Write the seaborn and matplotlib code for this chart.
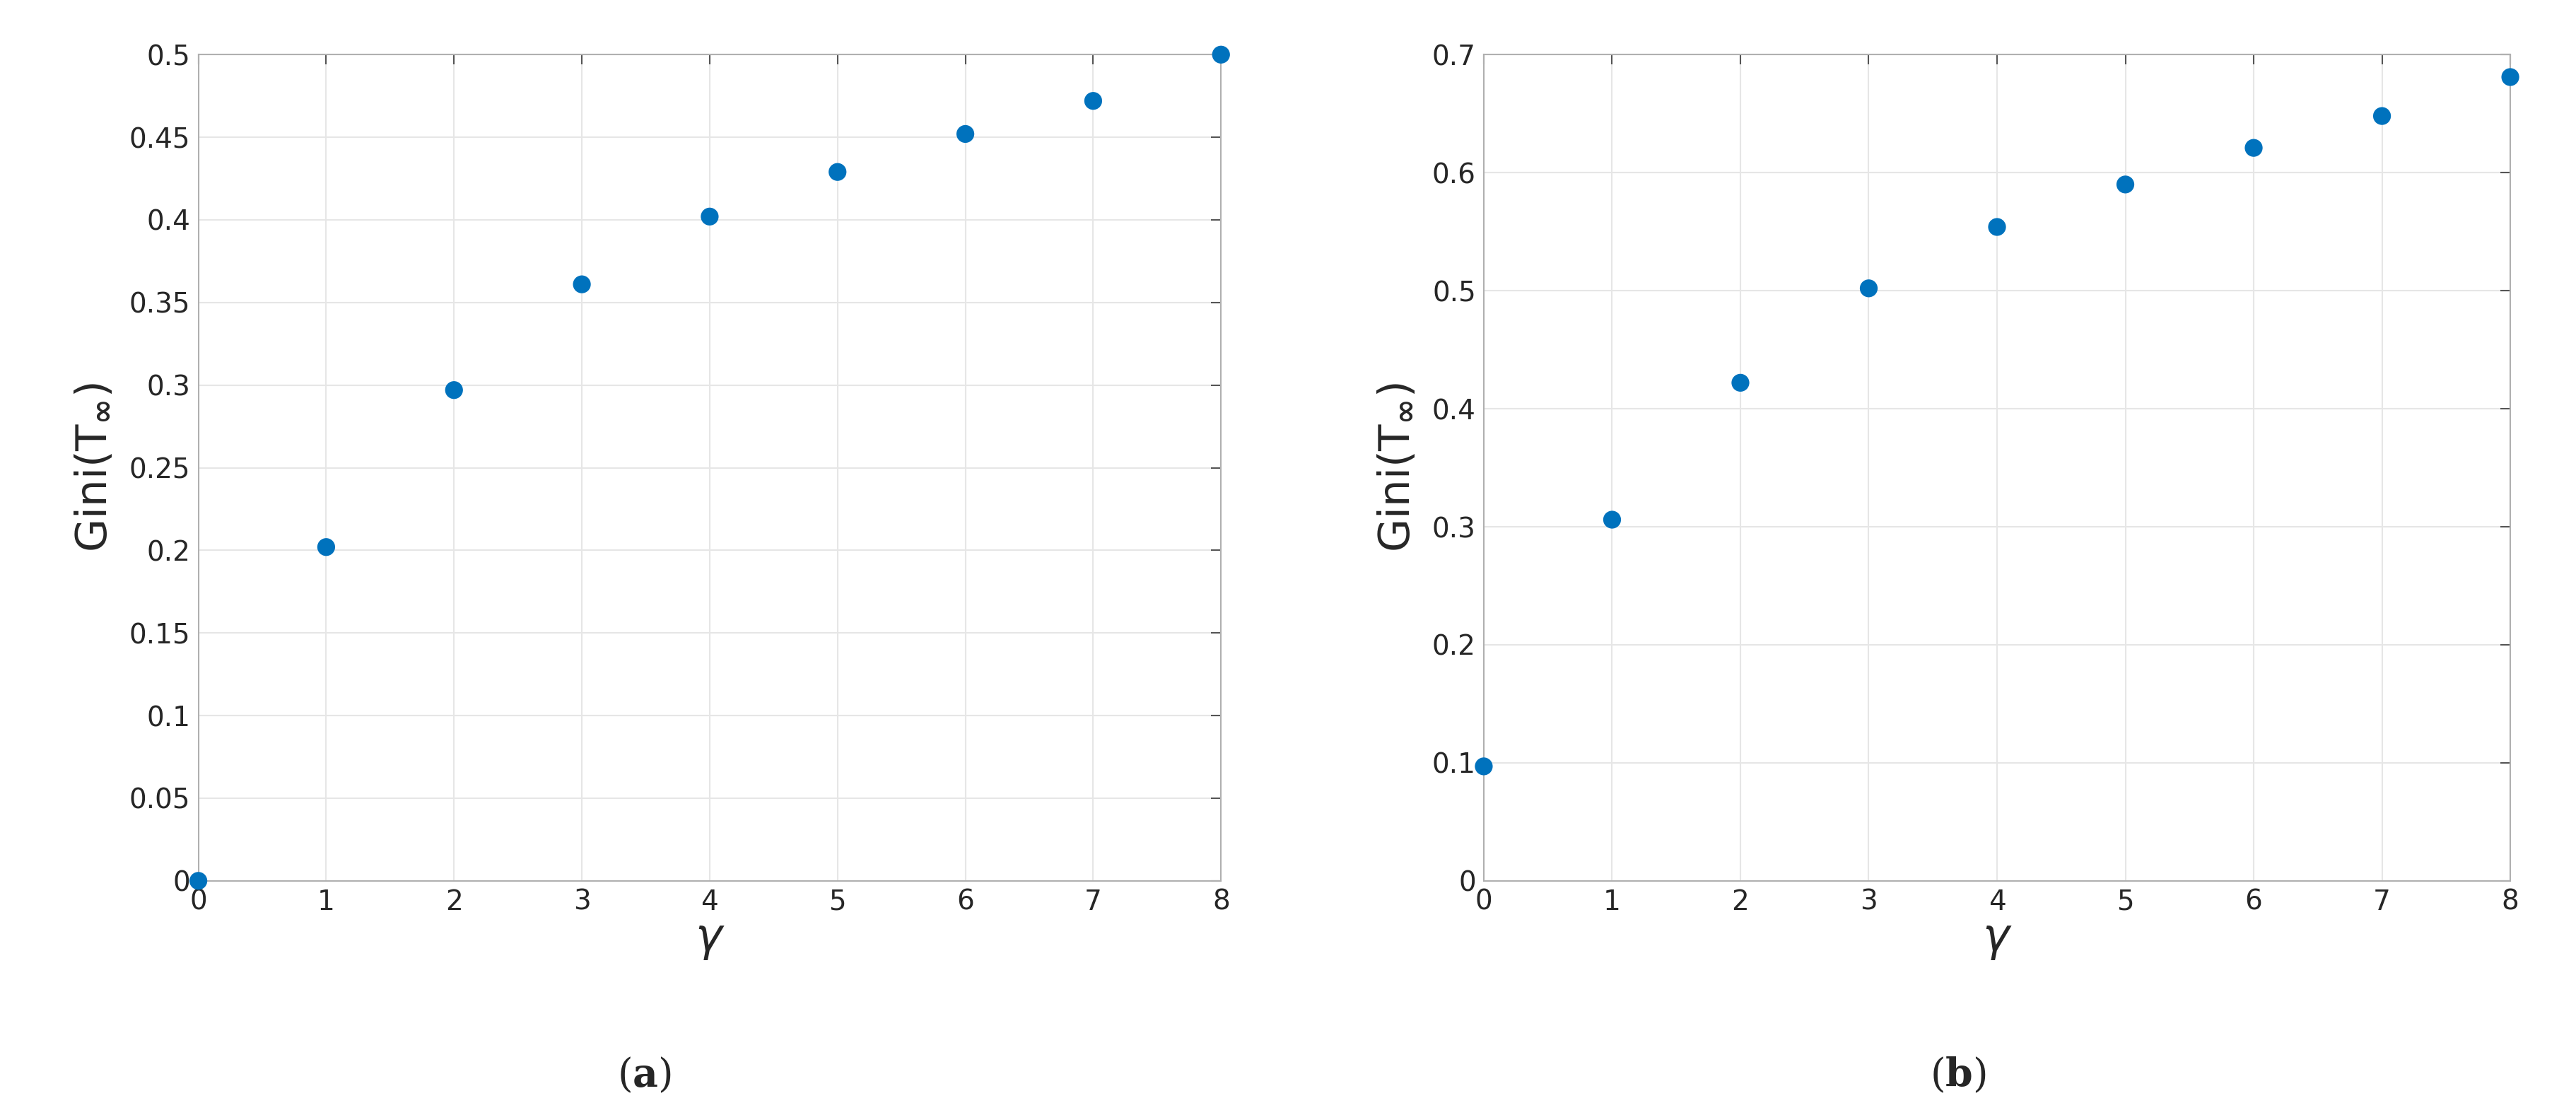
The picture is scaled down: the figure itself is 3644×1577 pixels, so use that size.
import numpy as np
import pandas as pd
import matplotlib
matplotlib.use('Agg')
import matplotlib.pyplot as plt
import seaborn as sns

# data
gamma = [0, 1, 2, 3, 4, 5, 6, 7, 8]
gini_a = [0.0, 0.202, 0.297, 0.361, 0.402, 0.429, 0.452, 0.472, 0.500]
gini_b = [0.097, 0.306, 0.422, 0.502, 0.554, 0.590, 0.621, 0.648, 0.681]

sns.set_style('white')
plt.rcParams['font.family'] = ['DejaVu Sans']
plt.rcParams['mathtext.fontset'] = 'dejavusans'

fig = plt.figure(figsize=(36.44, 15.77), dpi=100)
ax1 = fig.add_axes([0.077, 0.21, 0.397, 0.741])
ax2 = fig.add_axes([0.576, 0.21, 0.3985, 0.741])

panels = [
    (ax1, gini_a, 0.5, np.arange(0, 0.501, 0.05), 'a', 0.25),
    (ax2, gini_b, 0.7, np.arange(0, 0.701, 0.1), 'b', 0.76),
]
for ax, vals, ymax, yt, cap, cx in panels:
    df = pd.DataFrame({'gamma': gamma, 'gini': vals})
    sns.scatterplot(data=df, x='gamma', y='gini', ax=ax, color='#0072BD',
                    s=330, edgecolor='none', clip_on=False, zorder=3)
    ax.set_xlim(0, 8)
    ax.set_ylim(0, ymax)
    ax.set_xticks(range(9))
    ax.set_yticks(yt)
    ax.set_yticklabels([f'{v:g}' for v in yt])
    ax.grid(True, color='#e6e6e6', linewidth=1.5)
    for s in ax.spines.values():
        s.set_color('#b0b0b0')
        s.set_linewidth(1.5)
    ax.tick_params(direction='in', length=10, width=1.5, color='#555555',
                   labelsize=28, labelcolor='#262626', top=True, right=True, pad=8)
    ax.set_xlabel(r'$\gamma$', fontsize=46, color='#262626', labelpad=2)
    ax.set_ylabel(r'Gini(T$_{\mathbf{\infty}}$)', fontsize=44, color='#262626',
                  labelpad=14)
    fig.text(cx, 0.035, r'($\mathbf{' + cap + r'}$)', ha='center', va='center',
             fontsize=40, family='DejaVu Serif', math_fontfamily='dejavuserif')

fig.savefig('out.png', dpi=100)
